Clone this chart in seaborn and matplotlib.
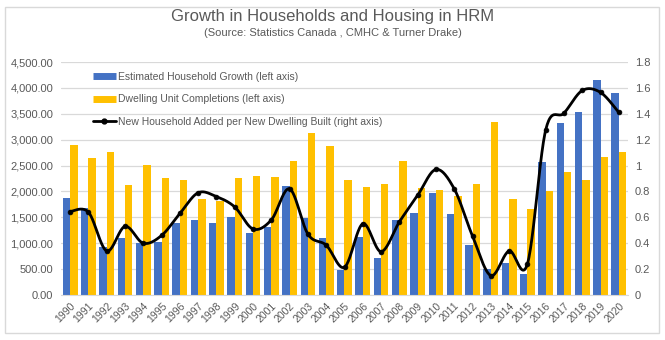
import numpy as np
import pandas as pd
import matplotlib
matplotlib.use("Agg")
import matplotlib.pyplot as plt
from matplotlib.lines import Line2D
from matplotlib.patches import Rectangle
import seaborn as sns

# ---- data -------------------------------------------------------------
years = [str(y) for y in range(1990, 2021)]
household_growth = [1875, 1675, 920, 1110, 1005, 1030, 1400, 1455, 1385, 1515,
                    1190, 1320, 2100, 1480, 1095, 485, 1115, 715, 1450, 1580,
                    1970, 1565, 975, 500, 620, 405, 2565, 3325, 3530, 4160, 3905]
dwelling_completions = [2900, 2640, 2765, 2120, 2515, 2255, 2225, 1845, 1825, 2255,
                        2295, 2270, 2585, 3130, 2885, 2230, 2080, 2135, 2585, 2060,
                        2035, 1920, 2145, 3350, 1845, 1660, 2015, 2370, 2230, 2660, 2770]
households_per_dwelling = [0.645, 0.64, 0.34, 0.53, 0.40, 0.46, 0.63, 0.79, 0.76, 0.68,
                           0.51, 0.58, 0.82, 0.47, 0.385, 0.215, 0.55, 0.335, 0.565, 0.77,
                           0.97, 0.82, 0.455, 0.15, 0.34, 0.24, 1.275, 1.405, 1.58, 1.565, 1.41]

series_names = ["Estimated Household Growth (left axis)",
                "Dwelling Unit Completions (left axis)",
                "New Household Added per New Dwelling Built (right axis)"]
left_ticks = [0, 500, 1000, 1500, 2000, 2500, 3000, 3500, 4000, 4500]
left_tick_labels = ["0.00", "500.00", "1,000.00", "1,500.00", "2,000.00", "2,500.00",
                    "3,000.00", "3,500.00", "4,000.00", "4,500.00"]
right_ticks = [0, 0.2, 0.4, 0.6, 0.8, 1.0, 1.2, 1.4, 1.6, 1.8]
right_tick_labels = ["0", "0.2", "0.4", "0.6", "0.8", "1", "1.2", "1.4", "1.6", "1.8"]

title = "Growth in Households and Housing in HRM"
subtitle = "(Source: Statistics Canada , CMHC & Turner Drake)"

# ---- style ------------------------------------------------------------
BLUE = "#4472C4"
GOLD = "#FFC000"
TEXT = "#595959"
GRID = "#D9D9D9"

sns.set_style("white")
plt.rcParams["font.family"] = ["Liberation Sans", "DejaVu Sans"]

df = pd.DataFrame({
    "year": years * 2,
    "value": household_growth + dwelling_completions,
    "series": [series_names[0]] * len(years) + [series_names[1]] * len(years),
})


def smooth_curve(xs, ys, n=24):
    """Catmull-Rom spline through the points (same look as a smoothed line)."""
    pts = np.column_stack([xs, ys]).astype(float)
    padded = np.vstack([pts[0], pts, pts[-1]])
    t = np.linspace(0, 1, n, endpoint=False)[:, None]
    segs = []
    for i in range(len(pts) - 1):
        p0, p1, p2, p3 = padded[i], padded[i + 1], padded[i + 2], padded[i + 3]
        segs.append(0.5 * (2 * p1 + (-p0 + p2) * t
                           + (2 * p0 - 5 * p1 + 4 * p2 - p3) * t ** 2
                           + (-p0 + 3 * p1 - 3 * p2 + p3) * t ** 3))
    segs.append(pts[-1:])
    return np.vstack(segs)


fig = plt.figure(figsize=(6.65, 3.40), dpi=100)
ax = fig.add_axes([61 / 665, 1 - 295 / 340, (628 - 61) / 665, (295 - 62) / 340])

sns.barplot(data=df, x="year", y="value", hue="series",
            palette=[BLUE, GOLD], width=0.81, gap=0, saturation=1,
            errorbar=None, legend=False, linewidth=0, ax=ax)

ax.set_xlim(-0.5, len(years) - 0.5)
ax.set_ylim(0, 4500)
ax.set_yticks(left_ticks)
ax.set_yticklabels(left_tick_labels)
ax.set_xlabel("")
ax.set_ylabel("")
ax.yaxis.grid(True, color=GRID, linewidth=0.9)
ax.set_axisbelow(True)
for side in ["left", "right", "top"]:
    ax.spines[side].set_visible(False)
ax.spines["bottom"].set_color(GRID)
ax.tick_params(axis="both", length=0, colors=TEXT, labelsize=8)
ax.tick_params(axis="y", pad=5.5)
ax.set_xticks(range(len(years)))
ax.set_xticklabels(years, rotation=45, ha="right", rotation_mode="anchor")
ax.tick_params(axis="x", pad=4, labelsize=7.5)

# right axis: ratio line
ax2 = ax.twinx()
xs = np.arange(len(years))
curve = smooth_curve(xs, households_per_dwelling)
ax2.plot(curve[:, 0], curve[:, 1], color="black", linewidth=2.0, solid_capstyle="round")
sns.scatterplot(x=xs, y=households_per_dwelling, color="black", s=12,
                edgecolor="black", linewidth=0.5, ax=ax2, zorder=5)
ax2.set_ylim(0, 1.8)
ax2.set_yticks(right_ticks)
ax2.set_yticklabels(right_tick_labels)
ax2.set_xlim(-0.5, len(years) - 0.5)
ax2.tick_params(axis="y", length=0, colors=TEXT, labelsize=8, pad=5)
for side in ["left", "right", "top", "bottom"]:
    ax2.spines[side].set_visible(False)

handles = [
    Line2D([], [], color=BLUE, linewidth=5, solid_capstyle="butt"),
    Line2D([], [], color=GOLD, linewidth=5, solid_capstyle="butt"),
    Line2D([], [], color="black", linewidth=2, marker="o", markersize=3.5),
]
leg = ax2.legend(handles, series_names, loc="upper left",
                 bbox_to_anchor=(93 / 665, 1 - 72 / 340), bbox_transform=fig.transFigure,
                 frameon=False, fontsize=7.5, handlelength=2.2, handletextpad=0.2,
                 labelspacing=1.2, borderpad=0, borderaxespad=0)
for txt in leg.get_texts():
    txt.set_color(TEXT)

fig.text(0.5, 1 - 16 / 340, title, ha="center", va="center", fontsize=12, color=TEXT)
fig.text(0.5, 1 - 33 / 340, subtitle, ha="center", va="center", fontsize=8, color=TEXT)

# chart frame
fig.patches.append(Rectangle((5 / 665, 1 - 333 / 340), 654 / 665, 326 / 340,
                             transform=fig.transFigure, fill=False,
                             edgecolor=GRID, linewidth=1.0))

fig.savefig("out.png", dpi=100)
